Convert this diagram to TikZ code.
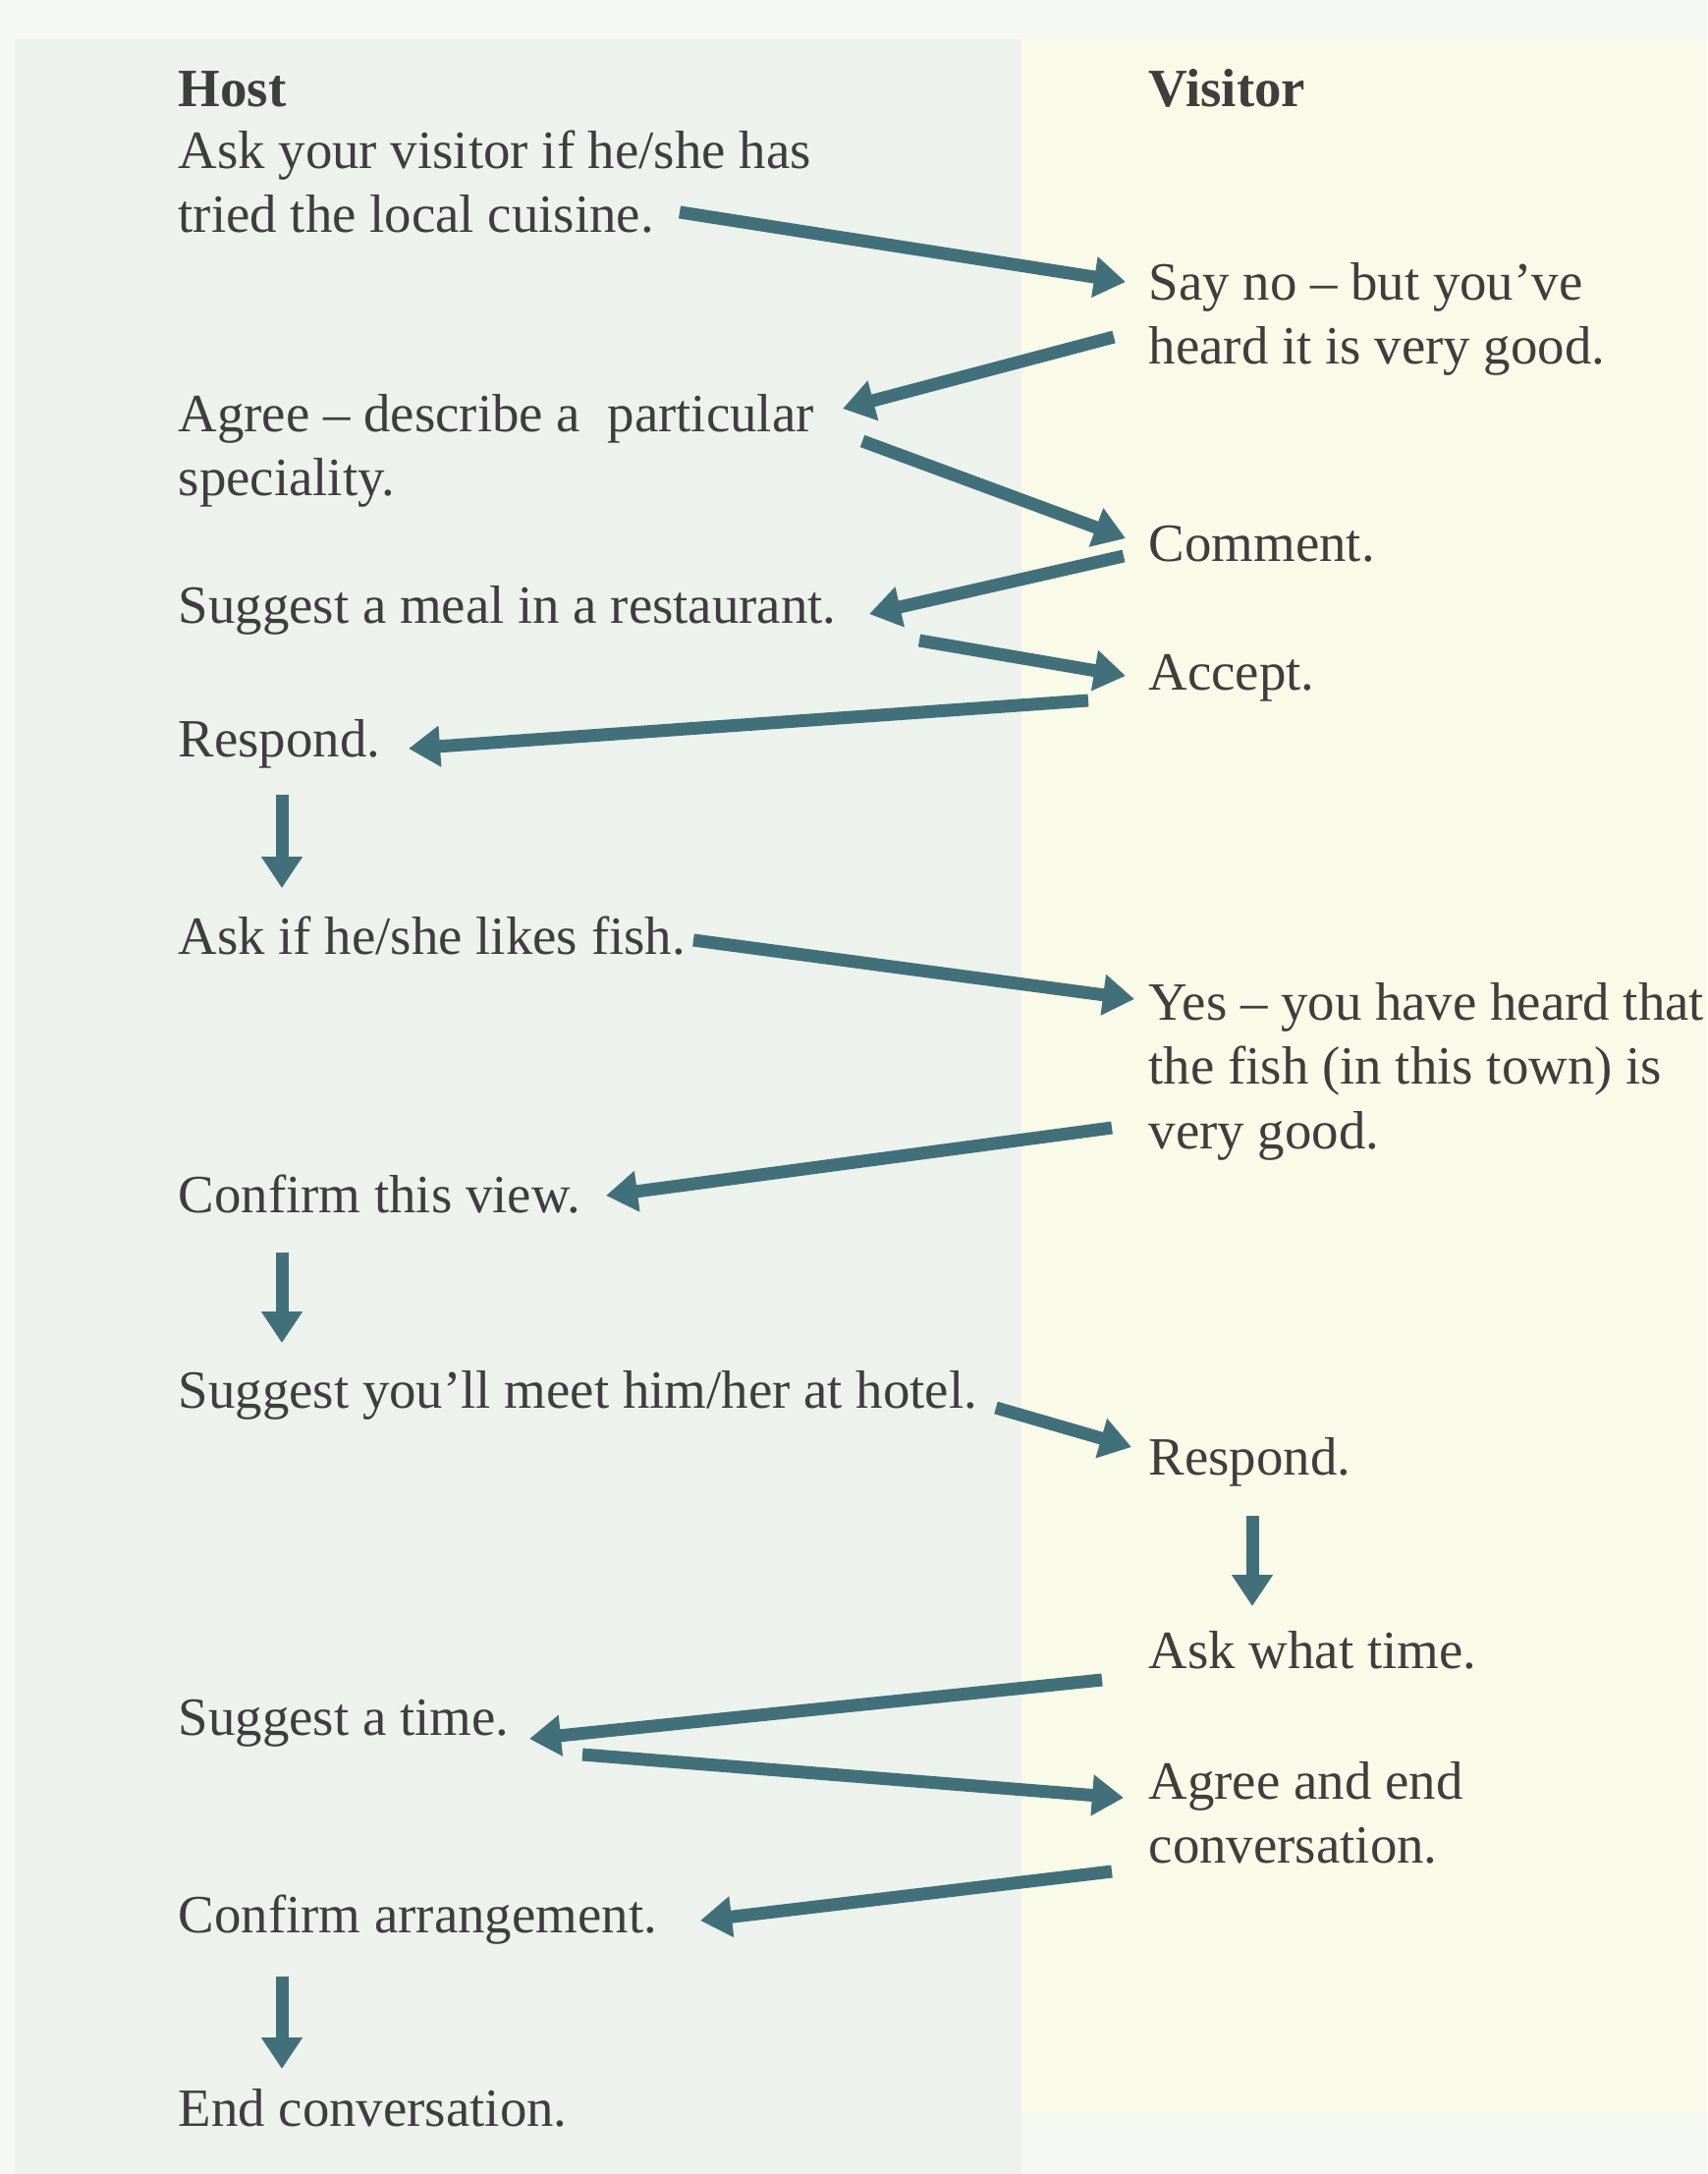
\documentclass[tikz,border=0pt]{standalone}
\usepackage{fontspec}
\setmainfont{Liberation Serif}
\usetikzlibrary{arrows.meta}
\definecolor{arrowc}{HTML}{41707A}
\definecolor{txtc}{HTML}{3E3E3E}
\definecolor{pagebg}{HTML}{F6F8F3}
\definecolor{leftbg}{HTML}{EDF2EC}
\definecolor{rightbg}{HTML}{FAFAE8}
\tikzset{
  txt/.style={anchor=base west, inner sep=0pt, align=left, text=txtc,
    font=\fontsize{15.6}{18.5}\selectfont},
  head/.style={txt, font=\fontsize{15.6}{18.5}\selectfont\bfseries},
  arr/.style={draw=arrowc, line width=1.3mm,
    -{Triangle[length=3.2mm,width=4mm]}}
}
\begin{document}
\begin{tikzpicture}[x=0.1mm,y=-0.1mm]
\useasboundingbox (0,0) rectangle (1738,2213);
\fill[pagebg] (0,0) rectangle (1738,2213);
\fill[leftbg] (15,40) rectangle (1040,2213);
\fill[rightbg] (1040,40) rectangle (1738,2150);

% multi-line nodes are placed at the baseline of their last line
\node[head] (host) at (181,109) {Host};
\node[head] (visitor) at (1169,109) {Visitor};

\node[txt] (h1) at (181,237) {Ask your visitor if he/she has\\tried the local cuisine.};
\node[txt] (v1) at (1169,371) {Say no – but you’ve\\heard it is very good.};
\node[txt] (h2) at (181,505) {Agree – describe a\ \ particular\\speciality.};
\node[txt] (v2) at (1169,572) {Comment.};
\node[txt] (h3) at (181,635) {Suggest a meal in a restaurant.};
\node[txt] (v3) at (1169,703) {Accept.};
\node[txt] (h4) at (181,771) {Respond.};
\node[txt] (h5) at (181,971) {Ask if he/she likes fish.};
\node[txt] (v4) at (1169,1169) {Yes – you have heard that\\the fish (in this town) is\\very good.};
\node[txt] (h6) at (181,1234) {Confirm this view.};
\node[txt] (h7) at (181,1433) {Suggest you’ll meet him/her at hotel.};
\node[txt] (v5) at (1169,1501) {Respond.};
\node[txt] (v6) at (1169,1698) {Ask what time.};
\node[txt] (h8) at (181,1766) {Suggest a time.};
\node[txt] (v7) at (1169,1896) {Agree and end\\conversation.};
\node[txt] (h9) at (181,1967) {Confirm arrangement.};
\node[txt] (h10) at (181,2164) {End conversation.};

% connector end points
\coordinate (a1s) at (692,216);  \coordinate (a1e) at (1146,287);
\coordinate (a2s) at (1134,343); \coordinate (a2e) at (858,416);
\coordinate (a3s) at (878,449);  \coordinate (a3e) at (1146,548);
\coordinate (a4s) at (1144,566); \coordinate (a4e) at (885,625);
\coordinate (a5s) at (936,652);  \coordinate (a5e) at (1146,688);
\coordinate (a6s) at (1108,713); \coordinate (a6e) at (416,762);
\coordinate (d1s) at (287,809);  \coordinate (d1e) at (287,904);
\coordinate (a7s) at (706,957);  \coordinate (a7e) at (1155,1017);
\coordinate (a8s) at (1132,1148);\coordinate (a8e) at (617,1217);
\coordinate (d2s) at (287,1275); \coordinate (d2e) at (287,1367);
\coordinate (a9s) at (1014,1433);\coordinate (a9e) at (1152,1473);
\coordinate (d3s) at (1275,1543);\coordinate (d3e) at (1275,1635);
\coordinate (a10s) at (1122,1710);\coordinate (a10e) at (539,1770);
\coordinate (a11s) at (593,1786);\coordinate (a11e) at (1144,1830);
\coordinate (a12s) at (1132,1905);\coordinate (a12e) at (713,1955);
\coordinate (d4s) at (287,2012); \coordinate (d4e) at (287,2106);

\draw[arr] (a1s) -- (a1e);
\draw[arr] (a2s) -- (a2e);
\draw[arr] (a3s) -- (a3e);
\draw[arr] (a4s) -- (a4e);
\draw[arr] (a5s) -- (a5e);
\draw[arr] (a6s) -- (a6e);
\draw[arr] (d1s) -- (d1e);
\draw[arr] (a7s) -- (a7e);
\draw[arr] (a8s) -- (a8e);
\draw[arr] (d2s) -- (d2e);
\draw[arr] (a9s) -- (a9e);
\draw[arr] (d3s) -- (d3e);
\draw[arr] (a10s) -- (a10e);
\draw[arr] (a11s) -- (a11e);
\draw[arr] (a12s) -- (a12e);
\draw[arr] (d4s) -- (d4e);
\end{tikzpicture}
\end{document}
